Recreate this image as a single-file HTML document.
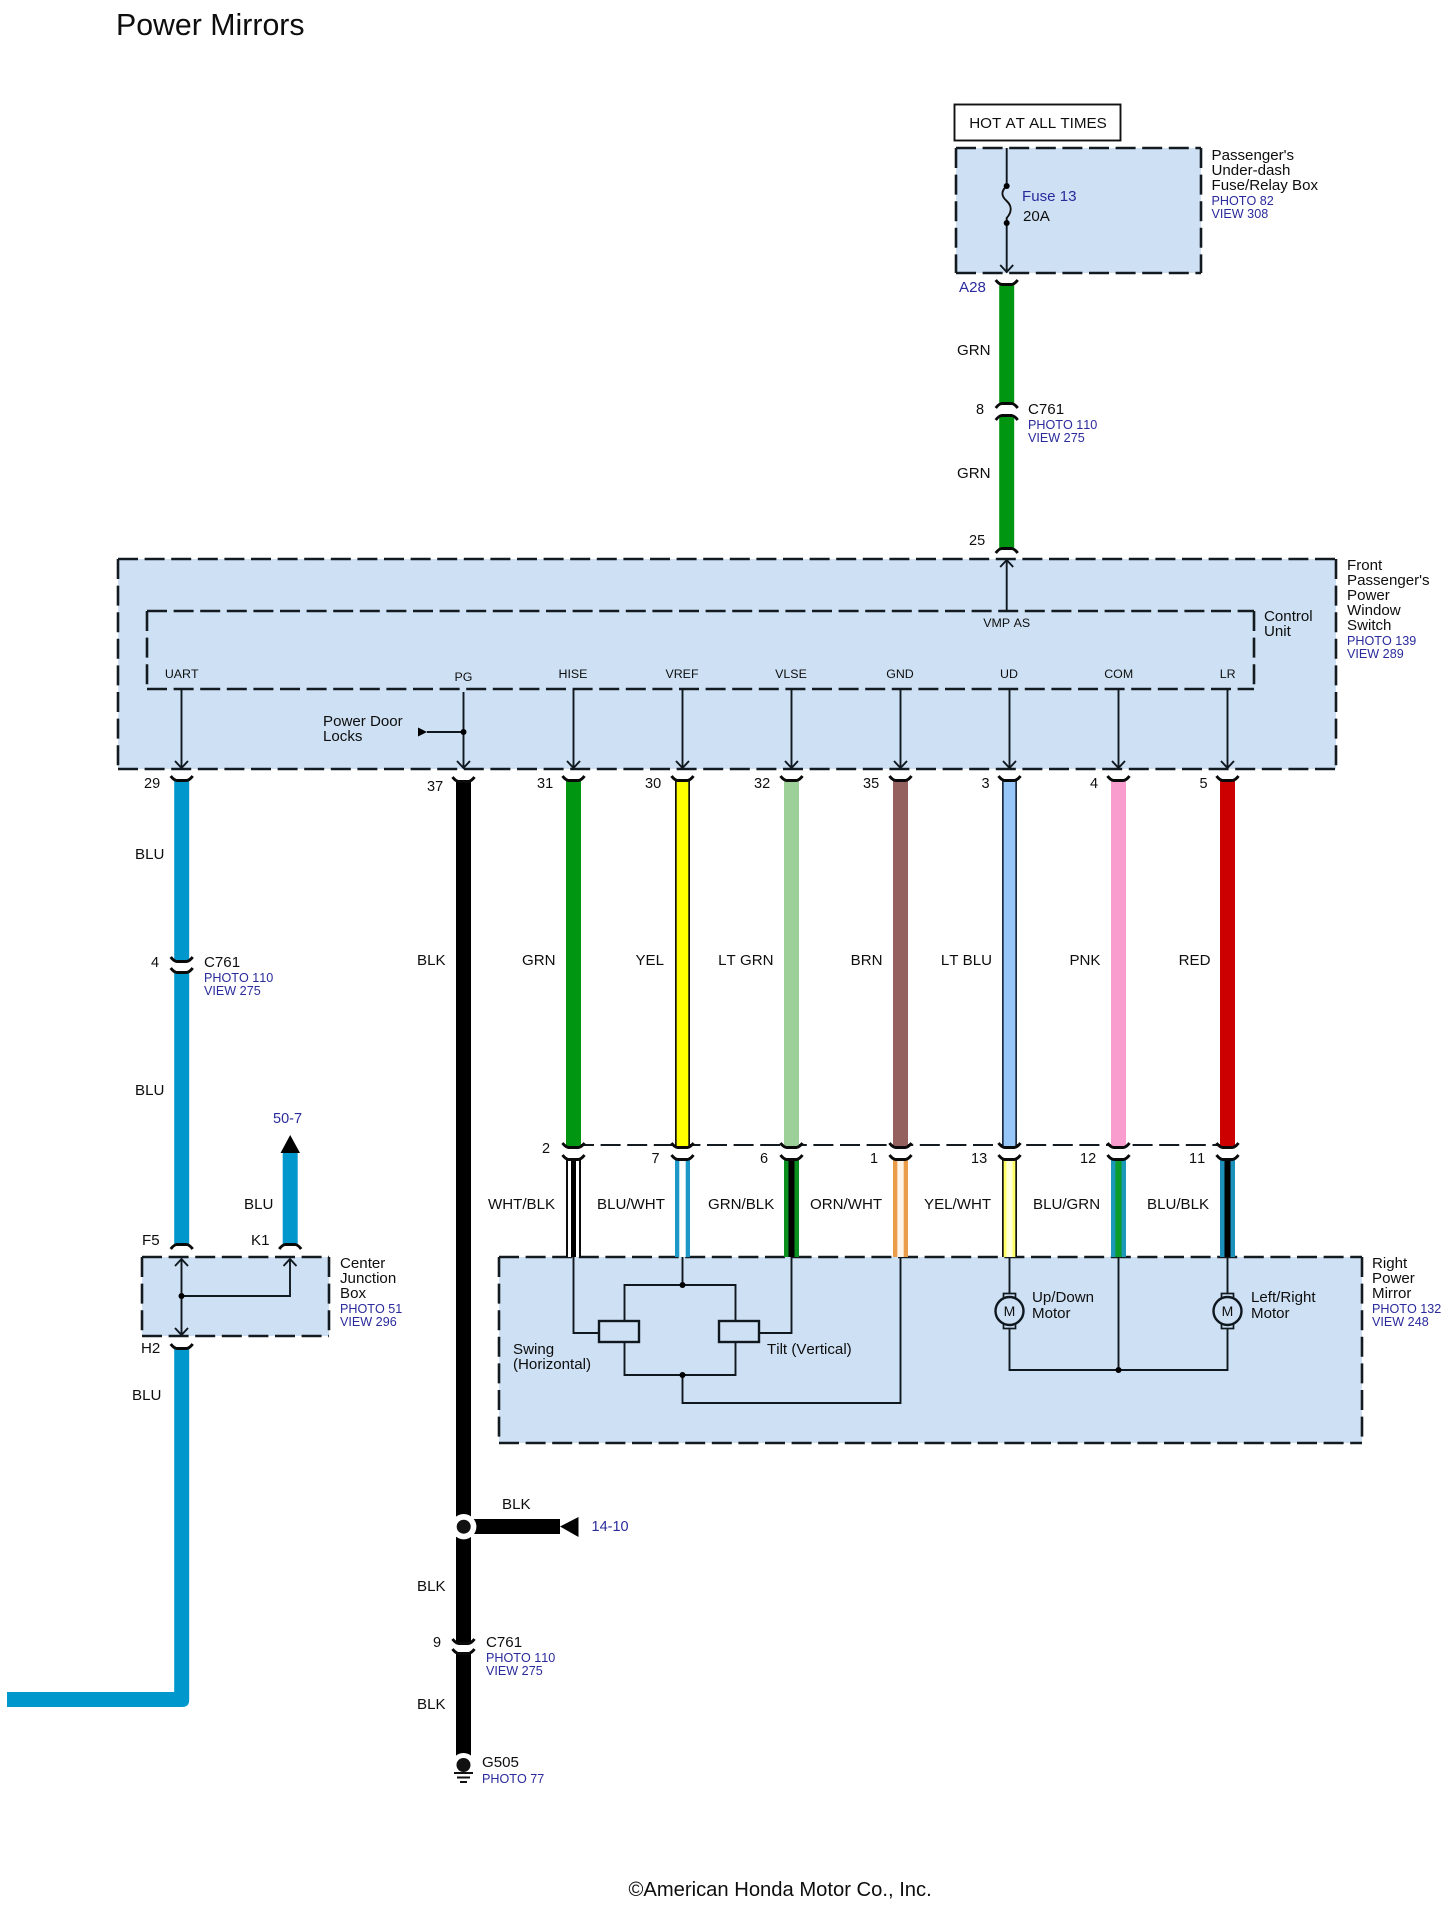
<!DOCTYPE html>
<html><head><meta charset="utf-8"><title>Power Mirrors</title>
<style>
html,body{margin:0;padding:0;background:#fff}
svg{display:block}
text{font-family:"Liberation Sans",sans-serif;font-size:15.1px;fill:#0e0e0e;font-kerning:none}
.s{font-size:12.4px}
.b{font-size:12.6px;fill:#2a2a9c}
.bl{fill:#2a2a9c}
.n{font-size:14.5px}
.c{text-anchor:middle}
.e{text-anchor:end}
</style></head><body>
<svg width="1454" height="1910" viewBox="0 0 1454 1910" xmlns="http://www.w3.org/2000/svg">
<defs>
<path id="U" d="M-11,-4 Q-8,0 -5,0.5 H5 Q8,0 11,-4" fill="none" stroke="#0a0a0a" stroke-width="2.9"/>
<path id="N" d="M-11,4 Q-8,0 -5,-0.5 H5 Q8,0 11,4" fill="none" stroke="#0a0a0a" stroke-width="2.9"/>
<path id="A" d="M-6.5,-7 L0,0 L6.5,-7" fill="none" stroke="#10181f" stroke-width="1.9"/>
<path id="T" d="M-6.5,7 L0,0 L6.5,7" fill="none" stroke="#10181f" stroke-width="1.9"/>
</defs>

<rect width="1454" height="1910" fill="#fff"/>

<!-- boxes -->
<g fill="#cee1f4">
<rect x="956" y="148" width="245" height="125"/>
<rect x="118" y="559" width="1218" height="210"/>
<rect x="142" y="1257" width="187" height="79"/>
<rect x="499" y="1257" width="863" height="186"/>
</g>
<g fill="none" stroke="#131a20" stroke-width="2.6" stroke-dasharray="20 6.6">
<path d="M956,148H1201M956,148V273M956,273H1201M1201,148V273"/>
<path d="M118,559H1336M118,559V769M118,769H1336M1336,559V769"/>
<path d="M147,611H1254M147,611V689M147,689H1254M1254,611V689"/>
<path d="M142,1257H329M142,1257V1336M142,1336H329M329,1257V1336"/>
<path d="M499,1257H1362M499,1257V1443M499,1443H1362M1362,1257V1443"/>
<path d="M574,1145H1228" stroke-width="2"/>
</g>
<rect x="954.5" y="104.5" width="166" height="36" fill="#fff" stroke="#111" stroke-width="1.9"/>

<!-- solid wires -->
<g>
<rect x="999.2" y="284" width="15" height="120" fill="#009611"/>
<rect x="999.2" y="416" width="15" height="133" fill="#009611"/>

<rect x="174.2" y="780" width="15" height="181" fill="#0097cd"/>
<rect x="174.2" y="972" width="15" height="273" fill="#0097cd"/>
<path d="M174.2,1348H189.2V1700Q189.2,1707 182,1707H7V1692H174.2Z" fill="#0097cd"/>
<rect x="282.7" y="1153" width="15" height="92" fill="#0097cd"/>

<rect x="456" y="780" width="15" height="863" fill="#000"/>
<rect x="456" y="1653" width="15" height="104" fill="#000"/>
<rect x="463" y="1519" width="97" height="15" fill="#000"/>

<rect x="566" y="780" width="15" height="367" fill="#009611"/>
<rect x="675" y="780" width="15" height="367" fill="#111"/>
<rect x="676.7" y="780" width="11.6" height="367" fill="#ffff00"/>
<rect x="784" y="780" width="15" height="367" fill="#9dcf99"/>
<rect x="893" y="780" width="15" height="367" fill="#95615f"/>
<rect x="1002" y="780" width="15" height="367" fill="#1a2a40"/>
<rect x="1003.7" y="780" width="11.6" height="367" fill="#97c6f8"/>
<rect x="1111" y="780" width="15" height="367" fill="#f89dcd"/>
<rect x="1220" y="780" width="15" height="367" fill="#cc0000"/>
</g>

<!-- two-tone lower wires -->
<g>
<rect x="566" y="1159" width="15" height="98" fill="#0c0c0c"/>
<rect x="568" y="1159" width="11" height="98" fill="#fff"/>
<rect x="571" y="1159" width="5" height="98" fill="#000"/>

<rect x="675" y="1159" width="15" height="98" fill="#1d98c8"/>
<rect x="679.3" y="1159" width="6.4" height="98" fill="#fff"/>

<rect x="784" y="1159" width="15" height="98" fill="#0b8f1f"/>
<rect x="788.5" y="1159" width="6" height="98" fill="#000"/>

<rect x="893" y="1159" width="15" height="98" fill="#ea9c48"/>
<rect x="897.3" y="1159" width="6.4" height="98" fill="#fdf3e6"/>

<rect x="1002" y="1159" width="15" height="98" fill="#111"/>
<rect x="1003.7" y="1159" width="11.6" height="98" fill="#ffff66"/>
<rect x="1006.5" y="1159" width="6" height="98" fill="#ffffd8"/>

<rect x="1111" y="1159" width="15" height="98" fill="#1c98b8"/>
<rect x="1115.4" y="1159" width="6.2" height="98" fill="#0c9c2c"/>

<rect x="1220" y="1159" width="15" height="98" fill="#1c8fba"/>
<rect x="1224.5" y="1159" width="6" height="98" fill="#000"/>
</g>

<!-- connector arcs -->
<use href="#U" x="1006.7" y="284"/>
<use href="#N" x="1006.7" y="404"/>
<use href="#N" x="1006.7" y="416"/>
<use href="#N" x="1006.7" y="549"/>
<use href="#U" x="181.7" y="780"/>
<use href="#U" x="463.5" y="781"/>
<use href="#U" x="573.5" y="780"/>
<use href="#U" x="682.5" y="780"/>
<use href="#U" x="791.5" y="780"/>
<use href="#U" x="900.5" y="780"/>
<use href="#U" x="1009.5" y="780"/>
<use href="#U" x="1118.5" y="780"/>
<use href="#U" x="1227.5" y="780"/>
<use href="#U" x="181.7" y="961"/>
<use href="#U" x="181.7" y="972"/>
<use href="#N" x="181.7" y="1245"/>
<use href="#N" x="290.2" y="1245"/>
<use href="#U" x="181.7" y="1348"/>
<use href="#U" x="463.5" y="1643"/>
<use href="#U" x="463.5" y="1653"/>
<use href="#U" x="573.5" y="1147"/><use href="#U" x="573.5" y="1159"/>
<use href="#U" x="682.5" y="1147"/><use href="#U" x="682.5" y="1159"/>
<use href="#U" x="791.5" y="1147"/><use href="#U" x="791.5" y="1159"/>
<use href="#U" x="900.5" y="1147"/><use href="#U" x="900.5" y="1159"/>
<use href="#U" x="1009.5" y="1147"/><use href="#U" x="1009.5" y="1159"/>
<use href="#U" x="1118.5" y="1147"/><use href="#U" x="1118.5" y="1159"/>
<use href="#U" x="1227.5" y="1147"/><use href="#U" x="1227.5" y="1159"/>

<!-- thin lines -->
<path fill="none" stroke="#10181f" stroke-width="1.9" d="
M1006.7,148V186 M1006.7,223V272
M1006.7,611V560
M181.5,689V768 M463.5,692V768 M573.5,689V768 M682.5,689V768 M791.5,689V768 M900.5,689V768 M1009.5,689V768 M1118.5,689V768 M1227.5,689V768
M427,732H463.5
M181.5,1259V1335 M181.5,1296H290V1259
M573.5,1257V1333H599 M759,1333H791.5V1257
M682.5,1257V1285 M624.5,1321V1285H735.5V1321
M624.5,1342V1375H735.5V1342 M682.5,1375V1403H900.5V1257
M1009.5,1257V1294 M1009.5,1329V1370H1227.5V1329 M1227.5,1257V1294 M1118.5,1257V1370
"/>
<path fill="none" stroke="#111" stroke-width="1.9" d="M1006.7,186C1001,191 1001,196 1006.7,201C1012,206 1012,212 1006.7,218L1006.7,223"/>

<!-- arrowheads -->
<use href="#A" x="1006.7" y="272"/>
<use href="#T" x="1006.7" y="560"/>
<use href="#A" x="181.5" y="768"/><use href="#A" x="463.5" y="768"/><use href="#A" x="573.5" y="768"/><use href="#A" x="682.5" y="768"/><use href="#A" x="791.5" y="768"/><use href="#A" x="900.5" y="768"/><use href="#A" x="1009.5" y="768"/><use href="#A" x="1118.5" y="768"/><use href="#A" x="1227.5" y="768"/>
<use href="#T" x="181.5" y="1259"/><use href="#T" x="290" y="1259"/><use href="#A" x="181.5" y="1335"/>
<path d="M418,727.5L427,732L418,736.5Z" fill="#000"/>
<path d="M280.5,1153L290.2,1135L300,1153Z" fill="#000"/>
<path d="M560,1526.5L578.5,1517V1537Z" fill="#000"/>

<!-- dots -->
<g fill="#000">
<circle cx="1006.7" cy="186" r="3"/><circle cx="1006.7" cy="223" r="3"/>
<circle cx="463.5" cy="732" r="3"/>
<circle cx="181.5" cy="1296" r="3"/>
<circle cx="682.5" cy="1285" r="3"/><circle cx="682.5" cy="1375" r="3"/>
<circle cx="1118.5" cy="1370" r="3"/>
</g>

<!-- splice & ground -->
<circle cx="463.7" cy="1526.7" r="12.7" fill="#fff"/>
<circle cx="463.7" cy="1526.7" r="7" fill="#111"/>
<circle cx="463.5" cy="1765" r="12" fill="#fff"/>
<circle cx="463.5" cy="1765" r="7" fill="#111"/>
<path d="M454,1773H473M457,1777.5H470M460,1782H467" stroke="#111" stroke-width="1.9" fill="none"/>

<!-- relay boxes -->
<rect x="599" y="1321" width="40" height="21" fill="#cee1f4" stroke="#10181f" stroke-width="2.4"/>
<rect x="719" y="1321" width="40" height="21" fill="#cee1f4" stroke="#10181f" stroke-width="2.4"/>

<!-- motors -->
<g fill="#cee1f4" stroke="#10181f" stroke-width="1.7">
<rect x="1003.5" y="1293.5" width="12" height="5"/><rect x="1003.5" y="1323.5" width="12" height="5"/>
<rect x="1221.5" y="1293.5" width="12" height="5"/><rect x="1221.5" y="1323.5" width="12" height="5"/>
</g>
<circle cx="1009.5" cy="1311" r="14" fill="#cee1f4" stroke="#10181f" stroke-width="2.4"/>
<circle cx="1227.5" cy="1311" r="14" fill="#cee1f4" stroke="#10181f" stroke-width="2.4"/>
<text class="c" x="1009.5" y="1316" style="font-size:14px">M</text>
<text class="c" x="1227.5" y="1316" style="font-size:14px">M</text>

<!-- title, footer -->
<text x="116" y="35" style="font-size:30.3px">Power Mirrors</text>
<text x="628.5" y="1896" style="font-size:20.2px">©American Honda Motor Co., Inc.</text>

<!-- top -->
<text class="c" x="1038" y="128" style="font-size:15.2px">HOT AT ALL TIMES</text>
<text x="1211.5" y="160">Passenger's</text>
<text x="1211.5" y="175">Under-dash</text>
<text x="1211.5" y="190">Fuse/Relay Box</text>
<text class="b" x="1211.5" y="205">PHOTO 82</text>
<text class="b" x="1211.5" y="218">VIEW 308</text>
<text class="bl" x="1022" y="201">Fuse 13</text>
<text x="1023" y="221">20A</text>
<text class="bl" x="959" y="292">A28</text>
<text x="957" y="355">GRN</text>
<text class="n" x="976" y="414">8</text>
<text x="1028" y="414">C761</text>
<text class="b" x="1028" y="429">PHOTO 110</text>
<text class="b" x="1028" y="442">VIEW 275</text>
<text x="957" y="478">GRN</text>
<text class="n" x="969" y="545">25</text>

<!-- main module labels -->
<text x="1347" y="570">Front</text>
<text x="1347" y="585">Passenger's</text>
<text x="1347" y="600">Power</text>
<text x="1347" y="615">Window</text>
<text x="1347" y="630">Switch</text>
<text class="b" x="1347" y="645">PHOTO 139</text>
<text class="b" x="1347" y="658">VIEW 289</text>
<text x="1264" y="621">Control</text>
<text x="1264" y="636">Unit</text>
<text class="s c" x="1006.7" y="627">VMP AS</text>
<text class="s c" x="181.7" y="678">UART</text>
<text class="s c" x="463.5" y="681">PG</text>
<text class="s c" x="573" y="678">HISE</text>
<text class="s c" x="682" y="678">VREF</text>
<text class="s c" x="791" y="678">VLSE</text>
<text class="s c" x="900" y="678">GND</text>
<text class="s c" x="1009" y="678">UD</text>
<text class="s c" x="1118.7" y="678">COM</text>
<text class="s c" x="1227.7" y="678">LR</text>
<text x="323" y="726">Power Door</text>
<text x="323" y="741">Locks</text>

<!-- pin numbers top -->
<text class="n" x="144" y="788">29</text>
<text class="n" x="427" y="791">37</text>
<text class="n" x="537" y="788">31</text>
<text class="n" x="645" y="788">30</text>
<text class="n" x="754" y="788">32</text>
<text class="n" x="863" y="788">35</text>
<text class="n" x="981.5" y="788">3</text>
<text class="n" x="1090" y="788">4</text>
<text class="n" x="1199.5" y="788">5</text>

<!-- left wire labels -->
<text x="135" y="859">BLU</text>
<text class="n" x="151" y="967">4</text>
<text x="204" y="967">C761</text>
<text class="b" x="204" y="982">PHOTO 110</text>
<text class="b" x="204" y="995">VIEW 275</text>
<text x="135" y="1095">BLU</text>
<text class="bl" x="273" y="1123" style="font-size:14.5px">50-7</text>
<text x="244" y="1209">BLU</text>
<text x="142" y="1245">F5</text>
<text x="251" y="1245">K1</text>
<text x="141" y="1353">H2</text>
<text x="132" y="1400">BLU</text>
<text x="340" y="1268">Center</text>
<text x="340" y="1283">Junction</text>
<text x="340" y="1298">Box</text>
<text class="b" x="340" y="1313">PHOTO 51</text>
<text class="b" x="340" y="1326">VIEW 296</text>

<!-- wire colour labels -->
<text x="417" y="965">BLK</text>
<text x="522" y="965">GRN</text>
<text class="e" x="664" y="965">YEL</text>
<text class="e" x="773.5" y="965">LT GRN</text>
<text class="e" x="882.5" y="965">BRN</text>
<text class="e" x="992" y="965">LT BLU</text>
<text class="e" x="1100.5" y="965">PNK</text>
<text class="e" x="1210.5" y="965">RED</text>

<!-- pin numbers lower -->
<text class="n" x="542" y="1153">2</text>
<text class="n" x="651.5" y="1163">7</text>
<text class="n" x="760" y="1163">6</text>
<text class="n" x="870" y="1163">1</text>
<text class="n" x="971" y="1163">13</text>
<text class="n" x="1080" y="1163">12</text>
<text class="n" x="1189" y="1163">11</text>

<text x="488" y="1209">WHT/BLK</text>
<text x="597" y="1209">BLU/WHT</text>
<text x="708" y="1209">GRN/BLK</text>
<text x="810" y="1209">ORN/WHT</text>
<text x="924" y="1209">YEL/WHT</text>
<text x="1033" y="1209">BLU/GRN</text>
<text x="1147" y="1209">BLU/BLK</text>

<!-- mirror labels -->
<text x="513" y="1354">Swing</text>
<text x="513" y="1369">(Horizontal)</text>
<text x="767" y="1354">Tilt (Vertical)</text>
<text x="1032" y="1302">Up/Down</text>
<text x="1032" y="1318">Motor</text>
<text x="1251" y="1302">Left/Right</text>
<text x="1251" y="1318">Motor</text>
<text x="1372" y="1268">Right</text>
<text x="1372" y="1283">Power</text>
<text x="1372" y="1298">Mirror</text>
<text class="b" x="1372" y="1313">PHOTO 132</text>
<text class="b" x="1372" y="1326">VIEW 248</text>

<!-- black wire bottom labels -->
<text x="502" y="1509">BLK</text>
<text class="bl" x="591.5" y="1531" style="font-size:14.5px">14-10</text>
<text x="417" y="1591">BLK</text>
<text class="n" x="433" y="1647">9</text>
<text x="486" y="1647">C761</text>
<text class="b" x="486" y="1662">PHOTO 110</text>
<text class="b" x="486" y="1675">VIEW 275</text>
<text x="417" y="1709">BLK</text>
<text x="482" y="1767">G505</text>
<text class="b" x="482" y="1783">PHOTO 77</text>
</svg>
</body></html>
